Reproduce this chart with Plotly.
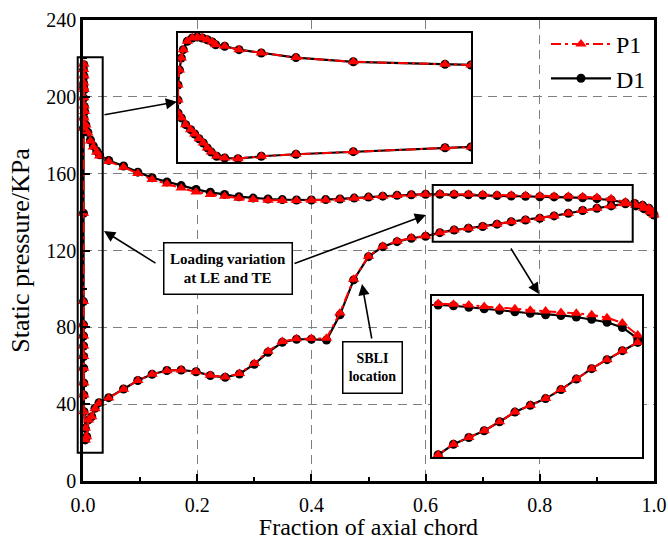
import plotly.graph_objects as go

# ---------------- data ----------------
# Pressure side (upper branch), from leading-edge stagnation to trailing edge
ps_x = [0.0015, 0.0010, 0.0018, 0.0012, 0.0020, 0.0014, 0.0022, 0.0030, 0.0016,
        0.0050, 0.0085, 0.013, 0.018, 0.024, 0.029, 0.045, 0.071, 0.096, 0.121,
        0.147, 0.172, 0.198, 0.223, 0.248, 0.273, 0.298, 0.324, 0.349, 0.374,
        0.400, 0.425, 0.450, 0.475, 0.500, 0.525, 0.550, 0.575, 0.600, 0.625,
        0.650, 0.675, 0.700, 0.725, 0.750, 0.775, 0.800, 0.825, 0.850, 0.875,
        0.900, 0.925, 0.950, 0.968, 0.982, 0.993, 1.000]
ps_d1 = [216.7, 214.0, 210.6, 207.0, 203.6, 199.3, 195.0, 192.3, 188.9,
         185.4, 181.5, 177.5, 174.5, 171.8, 169.8, 166.9, 164.0, 160.8, 157.9,
         155.7, 153.8, 151.8, 150.3, 149.2, 148.0, 147.3, 146.8, 146.5, 146.3,
         146.3, 146.5, 146.8, 147.3, 147.8, 148.3, 148.7, 149.0, 149.3, 149.3,
         149.2, 149.0, 148.8, 148.6, 148.4, 148.2, 148.0, 147.9, 147.7, 147.4,
         147.0, 146.3, 144.8, 143.2, 141.8, 140.0, 138.5]
ps_p1 = [216.9, 214.2, 210.8, 207.2, 203.8, 199.5, 195.2, 192.4, 189.0,
         185.3, 181.2, 177.0, 173.9, 171.2, 169.2, 166.3, 163.4, 160.1, 157.0,
         154.6, 152.5, 150.5, 149.2, 148.2, 147.2, 146.6, 146.2, 146.0, 146.0,
         146.1, 146.3, 146.7, 147.2, 147.7, 148.3, 148.6, 149.0, 149.3, 149.5,
         149.4, 149.3, 149.1, 148.9, 148.8, 148.6, 148.5, 148.3, 148.2, 148.0,
         147.6, 146.9, 145.3, 143.6, 142.0, 140.2, 138.5]

# Suction side (lower branch), from leading-edge stagnation to trailing edge
ss_x = [0.0010, 0.0008, 0.0008, 0.0008, 0.0010, 0.0010, 0.0011, 0.0012, 0.0013,
        0.0014, 0.0016, 0.0018, 0.0040, 0.0040, 0.0066, 0.0096, 0.0154, 0.021,
        0.028, 0.045, 0.071, 0.096, 0.121, 0.147, 0.172, 0.198, 0.223, 0.249,
        0.274, 0.300, 0.324, 0.349, 0.374, 0.400, 0.4265, 0.450, 0.474, 0.500,
        0.525, 0.550, 0.575, 0.600, 0.625, 0.650, 0.675, 0.700, 0.725, 0.750,
        0.775, 0.800, 0.825, 0.850, 0.875, 0.900, 0.925, 0.950, 0.966, 0.980,
        0.991, 0.998]
ss_d1 = [205.0, 183.7, 139.4, 93.4, 81.3, 75.5, 70.3, 64.8, 58.7,
         51.0, 44.8, 36.1, 27.4, 21.4, 23.1, 31.8, 33.5, 37.9,
         40.8, 43.4, 47.9, 52.3, 55.6, 57.5, 57.8, 56.9, 54.9, 54.0,
         55.7, 60.8, 67.0, 72.2, 73.8, 73.8, 73.4, 86.5, 104.7, 116.8,
         122.0, 124.6, 126.4, 127.4, 129.3, 130.7, 131.6, 132.5, 133.7, 135.0,
         135.9, 136.8, 138.0, 139.4, 140.8, 142.0, 143.2, 144.3, 144.5, 143.5,
         142.0, 140.0]
ss_p1 = [205.0, 183.7, 139.4, 93.4, 81.3, 75.5, 70.3, 64.8, 58.7,
         51.0, 44.8, 36.1, 27.4, 21.4, 23.1, 31.8, 33.5, 37.6,
         40.5, 43.2, 47.8, 52.3, 55.6, 57.4, 57.8, 56.9, 55.0, 54.2,
         56.0, 61.2, 67.5, 72.6, 74.0, 74.2, 74.3, 87.5, 105.0, 117.0,
         122.2, 124.8, 126.6, 127.6, 129.3, 130.7, 131.6, 132.5, 133.7, 135.0,
         135.9, 136.8, 138.0, 139.4, 140.8, 142.0, 143.2, 144.3, 144.5, 143.5,
         142.0, 140.0]

# Leading-edge magnified inset (own scale)
le_top_x = [0.0000, 0.00015, 0.00034, 0.00054, 0.00095, 0.00146, 0.00198, 0.00249,
            0.0030, 0.00351, 0.00386, 0.00478, 0.00625, 0.00853, 0.01208,
            0.01795, 0.02734, 0.0300]
le_top_y = [198.8, 206.4, 212.4, 216.6, 220.8, 222.5, 223.0, 222.5,
            221.6, 220.5, 219.1, 218.3, 216.6, 214.9, 212.6,
            210.5, 209.2, 208.9]
le_bot_x = [0.0000, 0.0000, 0.00034, 0.00079, 0.0013, 0.00171, 0.00215, 0.00259,
            0.0030, 0.00341, 0.00396, 0.00478, 0.00614, 0.00853, 0.01208,
            0.01795, 0.02734, 0.0300]
le_bot_y = [191.2, 184.7, 182.2, 178.8, 176.3, 174.1, 171.7, 169.6,
            167.1, 165.0, 162.9, 162.0, 161.7, 162.9, 163.9,
            165.2, 167.2, 167.6]

x_ticks = [0.0, 0.2, 0.4, 0.6, 0.8, 1.0]
y_ticks = [0, 40, 80, 120, 160, 200, 240]

# ---------------- layout geometry ----------------
W, H = 668, 540
ML, MR, MT, MB = 83, 14, 20, 59
PW, PH = W - ML - MR, H - MT - MB


def px_x(px):
    return (px - ML) / PW


def px_y(py):
    return (H - MB - py) / PH


FONT = "Liberation Serif"
RED = "#FF0000"

loop_x = ps_x[::-1] + ss_x
loop_d1 = ps_d1[::-1] + ss_d1
loop_p1 = ps_p1[::-1] + ss_p1
le_x = le_top_x[::-1] + le_bot_x
le_y = le_top_y[::-1] + le_bot_y

fig = go.Figure()


def add_pair(x, yd, yp, xa, ya, legend=False):
    fig.add_trace(go.Scatter(
        x=x, y=yd, mode="lines+markers", name="D1", showlegend=legend,
        xaxis=xa, yaxis=ya, cliponaxis=(xa != "x"), legendrank=2,
        line=dict(color="black", width=2.2),
        marker=dict(symbol="circle", size=9, color="black")))
    fig.add_trace(go.Scatter(
        x=x, y=yp, mode="lines+markers", name="P1", showlegend=legend,
        xaxis=xa, yaxis=ya, cliponaxis=(xa != "x"), legendrank=1,
        line=dict(color=RED, width=2, dash="10px,4px,3px,4px"),
        marker=dict(symbol="triangle-up", size=10, color=RED)))


add_pair(loop_x, loop_d1, loop_p1, "x", "y", legend=True)
add_pair(le_x, le_y, le_y, "x2", "y2")
add_pair(loop_x, loop_d1, loop_p1, "x3", "y3")

axis_font = dict(family=FONT, size=20, color="black")
grid = dict(showgrid=True, gridcolor="#7f7f7f", gridwidth=1.3, griddash="9px,6px",
            zeroline=False, showline=True, linecolor="black", linewidth=2.5,
            mirror=True, ticks="inside", ticklen=7, tickwidth=2, tickcolor="black",
            tickfont=axis_font, automargin=False)

inset_ax = dict(showgrid=False, zeroline=False, showticklabels=False, ticks="",
                showline=True, linecolor="black", linewidth=2, mirror=True,
                automargin=False)

fig.update_layout(
    width=W, height=H,
    margin=dict(l=ML, r=MR, t=MT, b=MB, autoexpand=False),
    paper_bgcolor="white", plot_bgcolor="white",
    font=dict(family=FONT, color="black"),
    xaxis=dict(domain=[0, 1], range=[0, 1], tickvals=x_ticks, tickformat=".1f",
               ticklabelstandoff=4,
               minor=dict(dtick=0.1, ticks="inside", ticklen=4, tickwidth=1.5,
                          tickcolor="black", showgrid=False),
               title=dict(text="Fraction of axial chord",
                          font=dict(family=FONT, size=24), standoff=8),
               **grid),
    yaxis=dict(domain=[0, 1], range=[0, 240], tickvals=y_ticks,
               minor=dict(dtick=20, ticks="inside", ticklen=4, tickwidth=1.5,
                          tickcolor="black", showgrid=False),
               title=dict(text="Static pressure/KPa",
                          font=dict(family=FONT, size=26), standoff=10),
               **grid),
    xaxis2=dict(domain=[px_x(178), px_x(471)], range=[0, 0.03], anchor="y2", **inset_ax),
    yaxis2=dict(domain=[px_y(162), px_y(33)], range=[160, 225], anchor="x2", **inset_ax),
    xaxis3=dict(domain=[px_x(432), px_x(642)], range=[0.615, 0.957], anchor="y3", **inset_ax),
    yaxis3=dict(domain=[px_y(457), px_y(296)], range=[129, 150.5], anchor="x3", **inset_ax),
    legend=dict(x=px_x(546), y=px_y(22), xanchor="left", yanchor="top",
                bgcolor="rgba(0,0,0,0)", font=dict(family=FONT, size=24),
                itemwidth=60, tracegroupgap=0),
    showlegend=True,
)

# zoom frames on main plot
for (x0, y0, x1, y1) in [(77.7, 57.3, 102.7, 452.7), (432.7, 185, 632.7, 241.7)]:
    fig.add_shape(type="rect", xref="paper", yref="paper",
                  x0=px_x(x0), x1=px_x(x1), y0=px_y(y1), y1=px_y(y0),
                  line=dict(color="black", width=2), fillcolor="rgba(0,0,0,0)")

# text boxes
fig.add_annotation(xref="paper", yref="paper", x=px_x(227.5), y=px_y(268),
                   xanchor="center", yanchor="middle",
                   text="<b>Loading variation</b><br><b>at LE and TE</b>",
                   showarrow=False, width=127, height=50, borderpad=0,
                   bordercolor="black", borderwidth=1.5, bgcolor="white",
                   font=dict(family=FONT, size=15, color="black"))
fig.add_annotation(xref="paper", yref="paper", x=px_x(372), y=px_y(367),
                   xanchor="center", yanchor="middle",
                   text="<b>SBLI</b><br><b>location</b>",
                   showarrow=False, width=58, height=50, borderpad=0,
                   bordercolor="black", borderwidth=1.5, bgcolor="white",
                   font=dict(family=FONT, size=14, color="black"))

# arrows (tail -> head, in pixels)
arrows = [((103, 115), (177, 101.7)),
          ((157, 264), (104, 231)),
          ((293, 264), (426, 215)),
          ((510, 247), (539, 294)),
          ((372, 340), (362, 284))]
for (tx, ty), (hx, hy) in arrows:
    fig.add_annotation(xref="paper", yref="paper", axref="pixel", ayref="pixel",
                       x=px_x(hx), y=px_y(hy), ax=tx - hx, ay=ty - hy,
                       text="", showarrow=True, arrowhead=2, arrowsize=1.4,
                       arrowwidth=1.6, arrowcolor="black", standoff=0)

fig.write_html("out.html")
